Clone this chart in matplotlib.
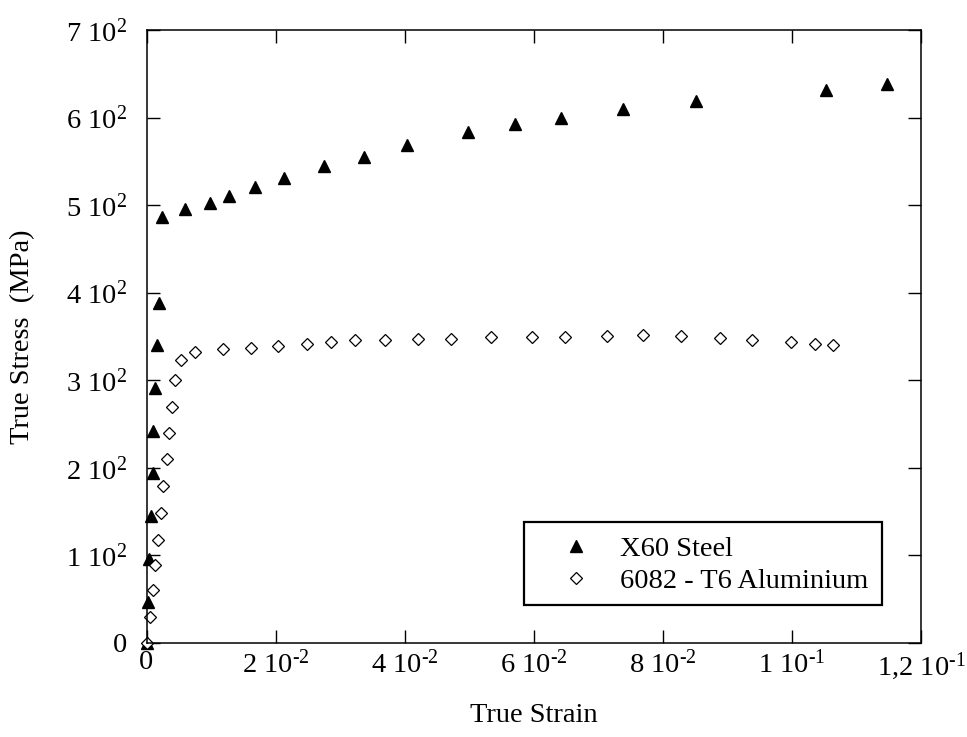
import matplotlib
matplotlib.use("Agg")
import matplotlib.pyplot as plt
from matplotlib.patches import Rectangle
from matplotlib.ticker import FixedLocator, FixedFormatter

# -------------------------
# Data
# -------------------------
steel_strain = [0.0, 0.0002, 0.00043, 0.0007, 0.00096, 0.00105, 0.00132, 0.00158,
                0.00198, 0.00236, 0.00592, 0.00989, 0.01278, 0.01676, 0.02135,
                0.0275, 0.03375, 0.04041, 0.04986, 0.05705, 0.06418, 0.07388,
                0.08514, 0.10528, 0.11469]
steel_stress = [0, 47, 96, 145, 194, 242, 291, 340,
                388, 486, 496, 502, 510, 521, 531,
                545, 555, 569, 583, 593, 599, 610,
                619, 631, 638]

alu_strain = [0.0, 0.00054, 0.00096, 0.00136, 0.00178, 0.0022, 0.0026, 0.00313,
              0.00353, 0.00395, 0.00437, 0.0053, 0.00756, 0.0119, 0.01619,
              0.02033, 0.02487, 0.02859, 0.03231, 0.037, 0.04202, 0.04713,
              0.05342, 0.05978, 0.06484, 0.07131, 0.07698, 0.08282, 0.08886,
              0.09377, 0.09981, 0.10358, 0.10632]
alu_stress = [0, 30, 60, 89, 118, 149, 179, 210,
              240, 270, 300, 323, 332, 336, 337,
              339, 341, 344, 346, 346, 347, 347,
              349, 349, 349, 351, 352, 351, 348,
              346, 344, 342, 340]

x_ticks = [0, 0.02, 0.04, 0.06, 0.08, 0.10, 0.12]
x_labels = ["0", "2 10$^{\u20102}$", "4 10$^{\u20102}$", "6 10$^{\u20102}$",
            "8 10$^{\u20102}$", "1 10$^{\u20101}$", "1,2 10$^{\u20101}$"]
y_ticks = [0, 100, 200, 300, 400, 500, 600, 700]
y_labels = ["0", "1 10$^2$", "2 10$^2$", "3 10$^2$", "4 10$^2$", "5 10$^2$",
            "6 10$^2$", "7 10$^2$"]

# -------------------------
# Style
# -------------------------
plt.rcParams["font.family"] = ["Liberation Serif", "DejaVu Serif"]
plt.rcParams["mathtext.fontset"] = "custom"
plt.rcParams["mathtext.rm"] = "Liberation Serif"
plt.rcParams["mathtext.default"] = "regular"

fs = 20.5

fig = plt.figure(figsize=(9.67, 7.37), dpi=100)
ax = fig.add_axes([146.5 / 967, 1 - 643 / 737, 774.5 / 967, 613 / 737])

ax.plot(steel_strain, steel_stress, linestyle="none", marker="^", ms=9,
        color="black", clip_on=False, label="X60 Steel")
ax.plot(alu_strain, alu_stress, linestyle="none", marker="D", ms=5.8,
        markerfacecolor="white", markeredgecolor="black", mew=0.9,
        clip_on=False, label="6082 - T6 Aluminium")

ax.set_xlim(0, 0.12)
ax.set_ylim(0, 700)
ax.xaxis.set_major_locator(FixedLocator(x_ticks))
ax.xaxis.set_major_formatter(FixedFormatter(x_labels))
ax.yaxis.set_major_locator(FixedLocator(y_ticks))
ax.yaxis.set_major_formatter(FixedFormatter(y_labels))

ax.tick_params(direction="in", length=9.5, width=1, top=True, right=True,
               labelsize=fs)
ax.tick_params(axis="x", pad=5)
ax.tick_params(axis="y", pad=14)
for sp in ax.spines.values():
    sp.set_linewidth(1.1)

ax.set_xlabel("True Strain", fontsize=fs)
ax.set_ylabel("True Stress  (MPa)", fontsize=fs)
ax.xaxis.set_label_coords(0.5, -0.098)
ax.yaxis.set_label_coords(-0.144, 0.5)

# legend box drawn by hand, legend itself frameless
ax.add_patch(Rectangle((0.4874, 0.062), 0.4622, 0.1359, transform=ax.transAxes,
                       fill=False, edgecolor="black", linewidth=1.6, zorder=5))
leg = ax.legend(loc="upper left", bbox_to_anchor=(0.518, 0.174),
                borderaxespad=0, borderpad=0, fontsize=fs, numpoints=1,
                frameon=False, handlelength=2, handletextpad=0.54,
                labelspacing=0.2)

fig.savefig("out.png", dpi=100)
